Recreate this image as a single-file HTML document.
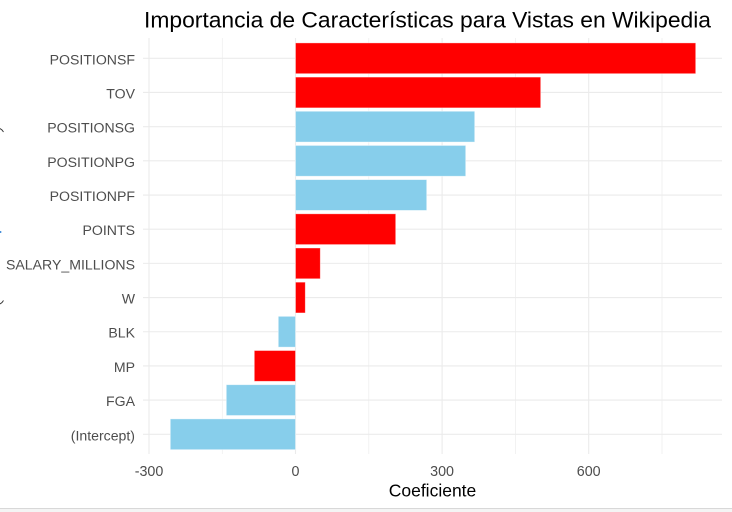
<!DOCTYPE html>
<html>
<head>
<meta charset="utf-8">
<style>
  html,body{margin:0;padding:0;background:#fff;}
  svg{display:block;}
  text{font-family:"Liberation Sans", Arial, sans-serif;}
</style>
</head>
<body>
<svg width="732" height="512" viewBox="0 0 732 512" xmlns="http://www.w3.org/2000/svg">
  <rect x="0" y="0" width="732" height="512" fill="#ffffff"/>

  <!-- minor vertical gridlines -->
  <g stroke="#ededed" stroke-width="0.7">
    <line x1="222.3" y1="38" x2="222.3" y2="454"/>
    <line x1="368.8" y1="38" x2="368.8" y2="454"/>
    <line x1="515.4" y1="38" x2="515.4" y2="454"/>
    <line x1="662" y1="38" x2="662" y2="454"/>
  </g>
  <!-- major gridlines -->
  <g stroke="#ebebeb" stroke-width="1.1">
    <line x1="149" y1="38" x2="149" y2="454"/>
    <line x1="295.5" y1="38" x2="295.5" y2="454"/>
    <line x1="442.1" y1="38" x2="442.1" y2="454"/>
    <line x1="588.7" y1="38" x2="588.7" y2="454"/>
    <line x1="143" y1="58.3" x2="722" y2="58.3"/>
    <line x1="143" y1="92.48" x2="722" y2="92.48"/>
    <line x1="143" y1="126.66" x2="722" y2="126.66"/>
    <line x1="143" y1="160.84" x2="722" y2="160.84"/>
    <line x1="143" y1="195.02" x2="722" y2="195.02"/>
    <line x1="143" y1="229.2" x2="722" y2="229.2"/>
    <line x1="143" y1="263.38" x2="722" y2="263.38"/>
    <line x1="143" y1="297.56" x2="722" y2="297.56"/>
    <line x1="143" y1="331.74" x2="722" y2="331.74"/>
    <line x1="143" y1="365.92" x2="722" y2="365.92"/>
    <line x1="143" y1="400.1" x2="722" y2="400.1"/>
    <line x1="143" y1="434.28" x2="722" y2="434.28"/>
  </g>

  <!-- bars -->
  <g stroke="#ffffff" stroke-opacity="0.5" stroke-width="0.8">
    <rect x="295.5" y="42.9" width="400.2" height="30.8" fill="#ff0000"/>
    <rect x="295.5" y="77.08" width="245.2" height="30.8" fill="#ff0000"/>
    <rect x="295.5" y="111.26" width="179.2" height="30.8" fill="#87ceeb"/>
    <rect x="295.5" y="145.44" width="170.2" height="30.8" fill="#87ceeb"/>
    <rect x="295.5" y="179.62" width="131.2" height="30.8" fill="#87ceeb"/>
    <rect x="295.5" y="213.8" width="100.2" height="30.8" fill="#ff0000"/>
    <rect x="295.5" y="247.98" width="24.8" height="30.8" fill="#ff0000"/>
    <rect x="295.5" y="282.16" width="9.8" height="30.8" fill="#ff0000"/>
    <rect x="278.3" y="316.34" width="17.2" height="30.8" fill="#87ceeb"/>
    <rect x="254.3" y="350.52" width="41.2" height="30.8" fill="#ff0000"/>
    <rect x="226.3" y="384.7" width="69.2" height="30.8" fill="#87ceeb"/>
    <rect x="170.3" y="418.88" width="125.2" height="30.8" fill="#87ceeb"/>
  </g>

  <!-- y tick labels -->
  <g font-size="14.1" fill="#4d4d4d" text-anchor="end">
    <text x="135" y="64.3">POSITIONSF</text>
    <text x="135" y="98.5">TOV</text>
    <text x="135" y="132.7">POSITIONSG</text>
    <text x="135" y="166.8">POSITIONPG</text>
    <text x="135" y="201">POSITIONPF</text>
    <text x="135" y="235.2">POINTS</text>
    <text x="135" y="269.4">SALARY_MILLIONS</text>
    <text x="135" y="303.6">W</text>
    <text x="135" y="337.7">BLK</text>
    <text x="135" y="371.9">MP</text>
    <text x="135" y="406.1">FGA</text>
    <text x="135" y="440.3">(Intercept)</text>
  </g>

  <!-- x tick labels -->
  <g font-size="14.3" fill="#4d4d4d" text-anchor="middle">
    <text x="149" y="476">-300</text>
    <text x="295.5" y="476">0</text>
    <text x="442.1" y="476">300</text>
    <text x="588.7" y="476">600</text>
  </g>

  <!-- axis title -->
  <text x="432.5" y="496.7" font-size="17.5" fill="#000" text-anchor="middle">Coeficiente</text>

  <!-- title -->
  <text x="144" y="27.3" font-size="22.5" fill="#000" textLength="567" lengthAdjust="spacingAndGlyphs">Importancia de Características para Vistas en Wikipedia</text>

  <!-- left edge artifacts -->
  <path d="M0 128.5 L2 130 L3.5 132" stroke="#333" stroke-width="1" fill="none"/>
  <rect x="0" y="231" width="1.3" height="2" fill="#4a90d9"/>
  <path d="M0 304 L2 302.5 L3.5 300.5" stroke="#333" stroke-width="1" fill="none"/>

  <!-- bottom border -->
  <rect x="0" y="508" width="732" height="1" fill="#d8d8d8"/>
  <rect x="0" y="509" width="732" height="3" fill="#f4f4f4"/>
</svg>
</body>
</html>
